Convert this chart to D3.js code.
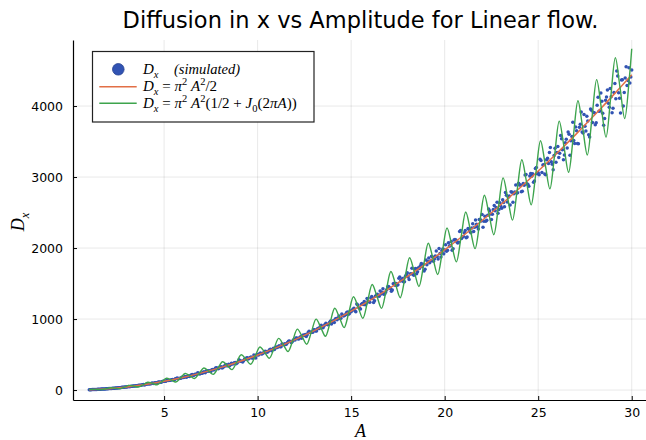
<!DOCTYPE html>
<html><head><meta charset="utf-8">
<script src="https://cdn.jsdelivr.net/npm/d3@7"></script>
<style>body{margin:0;background:#fff}</style>
</head><body>
<svg id="chart" width="646" height="440"></svg>
<script>
const title = "Diffusion in x vs Amplitude for Linear flow.";
const xTicks = [5, 10, 15, 20, 25, 30];
const yTicks = [0, 1000, 2000, 3000, 4000];

// simulated points (A, D_x) — grid 1
const simA = [
1,1.1,1.2,1.3,1.4,1.5,1.6,1.7,1.8,1.9,
2,2.1,2.2,2.3,2.4,2.5,2.6,2.7,2.8,2.9,
3,3.1,3.2,3.3,3.4,3.5,3.6,3.7,3.8,3.9,
4,4.1,4.2,4.3,4.4,4.5,4.6,4.7,4.8,4.9,
5,5.1,5.2,5.3,5.4,5.5,5.6,5.7,5.8,5.9,
6,6.1,6.2,6.3,6.4,6.5,6.6,6.7,6.8,6.9,
7,7.1,7.2,7.3,7.4,7.5,7.6,7.7,7.8,7.9,
8,8.1,8.2,8.3,8.4,8.5,8.6,8.7,8.8,8.9,
9,9.1,9.2,9.3,9.4,9.5,9.6,9.7,9.8,9.9,
10,10.1,10.2,10.3,10.4,10.5,10.6,10.7,10.8,10.9,
11,11.1,11.2,11.3,11.4,11.5,11.6,11.7,11.8,11.9,
12,12.1,12.2,12.3,12.4,12.5,12.6,12.7,12.8,12.9,
13,13.1,13.2,13.3,13.4,13.5,13.6,13.7,13.8,13.9,
14,14.1,14.2,14.3,14.4,14.5,14.6,14.7,14.8,14.9,
15,15.1,15.2,15.3,15.4,15.5,15.6,15.7,15.8,15.9,
16,16.1,16.2,16.3,16.4,16.5,16.6,16.7,16.8,16.9,
17,17.1,17.2,17.3,17.4,17.5,17.6,17.7,17.8,17.9,
18,18.1,18.2,18.3,18.4,18.5,18.6,18.7,18.8,18.9,
19,19.1,19.2,19.3,19.4,19.5,19.6,19.7,19.8,19.9,
20,20.1,20.2,20.3,20.4,20.5,20.6,20.7,20.8,20.9,
21,21.1,21.2,21.3,21.4,21.5,21.6,21.7,21.8,21.9,
22,22.1,22.2,22.3,22.4,22.5,22.6,22.7,22.8,22.9,
23,23.1,23.2,23.3,23.4,23.5,23.6,23.7,23.8,23.9,
24,24.1,24.2,24.3,24.4,24.5,24.6,24.7,24.8,24.9,
25,25.1,25.2,25.3,25.4,25.5,25.6,25.7,25.8,25.9,
26,26.1,26.2,26.3,26.4,26.5,26.6,26.7,26.8,26.9,
27,27.1,27.2,27.3,27.4,27.5,27.6,27.7,27.8,27.9,
28,28.1,28.2,28.3,28.4,28.5,28.6,28.7,28.8,28.9,
29,29.1,29.2,29.3,29.4,29.5,29.6,29.7,29.8,29.9,
30];
const simD = [
4.9,6.1,7.0,8.5,9.5,11.3,12.4,14.6,15.7,18.2,
19.3,22.4,23.3,26.9,28.9,30.2,32.4,37.0,37.9,42.6,
43.2,48.9,49.6,52.8,58.6,62.1,62.5,69.4,69.9,77.2,
77.0,85.1,84.6,89.9,97.4,102.8,101.5,112.2,110.4,121.9,
125.2,124.8,138.6,137.8,145.1,142.3,158.2,168.5,162.9,166.1,
178.4,188.9,179.1,198.2,200.3,217.7,209.8,221.7,242.6,226.0,
239.2,255.2,245.3,271.9,272.1,260.4,290.4,291.7,314.6,301.5,
323.1,312.1,334.8,359.3,343.0,340.9,376.3,370.5,388.3,379.6,
428.5,407.0,396.4,435.3,452.2,437.8,457.1,449.9,493.4,450.8,
496.2,509.7,507.8,521.7,548.2,533.5,555.0,574.3,571.9,571.9,
605.5,609.8,611.0,649.0,641.0,641.2,670.0,691.1,668.9,699.9,
704.2,733.3,718.7,751.8,766.7,769.1,755.6,811.8,812.2,813.0,
849.0,833.3,864.1,868.6,912.2,878.7,923.7,925.3,927.1,974.0,
967.2,952.6,1008.5,1015.7,1007.9,1071.8,1044.5,1061.6,1098.2,1073.7,
1104.1,1137.8,1117.0,1213.4,1167.1,1143.3,1217.7,1247.9,1217.3,1251.9,
1235.9,1315.9,1233.4,1321.2,1350.5,1322.8,1353.2,1428.3,1354.8,1411.4,
1459.1,1429.9,1409.8,1505.9,1500.3,1483.8,1592.8,1544.9,1525.2,1601.1,
1650.4,1556.7,1638.0,1631.8,1705.8,1638.1,1724.0,1751.0,1738.1,1675.2,
1831.3,1811.6,1793.7,1884.5,1815.7,1889.6,1882.5,1994.2,1872.3,1987.1,
1971.2,1956.0,2074.2,2033.6,1970.3,2113.0,2113.2,2070.1,2233.6,2134.4,
2162.5,2246.2,2155.8,2262.4,2215.6,2343.4,2292.7,2336.8,2268.0,2403.2,
2473.7,2378.1,2375.9,2460.9,2526.3,2400.3,2541.7,2526.8,2644.3,2544.4,
2590.4,2681.2,2579.9,2742.8,2715.3,2607.0,2785.0,2766.0,2889.2,2777.4,
2888.2,2793.9,2908.2,3030.2,2907.1,2870.9,3051.1,3046.8,2944.0,3133.0,
3059.6,3248.9,3064.8,3174.5,3030.9,3263.4,3344.0,3217.0,3104.1,3406.3,
3345.9,3274.2,3583.9,3382.6,3312.1,3531.3,3634.8,3306.9,3572.7,3513.7,
3705.4,3471.9,3702.1,3916.9,3619.6,3717.0,3856.9,3597.1,3958.7,3768.3,
3903.7,3764.1,4124.5,3928.5,4067.8,3727.7,4080.9,4227.3,3982.6,4129.8,
3967.6,4316.7,4493.7,4185.6,3902.9,4371.8,4189.6,4553.2,4360.4,4323.5,
4507.9];

// simulated points — grid 2 (in-between runs)
const simA2 = [
1.05,1.15,1.25,1.35,1.45,1.55,1.65,1.75,1.85,1.95,
2.05,2.15,2.25,2.35,2.45,2.55,2.65,2.75,2.85,2.95,
3.05,3.15,3.25,3.35,3.45,3.55,3.65,3.75,3.85,3.95,
4.05,4.15,4.25,4.35,4.45,4.55,4.65,4.75,4.85,4.95,
5.05,5.15,5.25,5.35,5.45,5.55,5.65,5.75,5.85,5.95,
6.05,6.15,6.25,6.35,6.45,6.55,6.65,6.75,6.85,6.95,
7.05,7.15,7.25,7.35,7.45,7.55,7.65,7.75,7.85,7.95,
8.05,8.15,8.25,8.35,8.45,8.55,8.65,8.75,8.85,8.95,
9.05,9.15,9.25,9.35,9.45,9.55,9.65,9.75,9.85,9.95,
10.05,10.15,10.25,10.35,10.45,10.55,10.65,10.75,10.85,10.95,
11.05,11.15,11.25,11.35,11.45,11.55,11.65,11.75,11.85,11.95,
12.05,12.15,12.25,12.35,12.45,12.55,12.65,12.75,12.85,12.95,
13.05,13.15,13.25,13.35,13.45,13.55,13.65,13.75,13.85,13.95,
14.05,14.15,14.25,14.35,14.45,14.55,14.65,14.75,14.85,14.95,
15.05,15.15,15.25,15.35,15.45,15.55,15.65,15.75,15.85,15.95,
16.05,16.15,16.25,16.35,16.45,16.55,16.65,16.75,16.85,16.95,
17.05,17.15,17.25,17.35,17.45,17.55,17.65,17.75,17.85,17.95,
18.05,18.15,18.25,18.35,18.45,18.55,18.65,18.75,18.85,18.95,
19.05,19.15,19.25,19.35,19.45,19.55,19.65,19.75,19.85,19.95,
20.05,20.15,20.25,20.35,20.45,20.55,20.65,20.75,20.85,20.95,
21.05,21.15,21.25,21.35,21.45,21.55,21.65,21.75,21.85,21.95,
22.05,22.15,22.25,22.35,22.45,22.55,22.65,22.75,22.85,22.95,
23.05,23.15,23.25,23.35,23.45,23.55,23.65,23.75,23.85,23.95,
24.05,24.15,24.25,24.35,24.45,24.55,24.65,24.75,24.85,24.95,
25.05,25.15,25.25,25.35,25.45,25.55,25.65,25.75,25.85,25.95,
26.05,26.15,26.25,26.35,26.45,26.55,26.65,26.75,26.85,26.95,
27.05,27.15,27.25,27.35,27.45,27.55,27.65,27.75,27.85,27.95,
28.05,28.15,28.25,28.35,28.45,28.55,28.65,28.75,28.85,28.95,
29.05,29.15,29.25,29.35,29.45,29.55,29.65,29.75,29.85,29.95];
const simD2 = [
5.37,6.75,7.36,9.04,10.59,11.54,14.14,14.99,16.23,19.08,
21.61,22.45,25.05,25.64,30.48,32.41,33.85,39.60,40.00,41.48,
46.92,46.62,52.59,57.48,57.62,61.88,68.96,67.32,74.25,72.07,
81.10,87.28,87.26,98.05,94.10,102.98,105.53,114.79,111.32,123.21,
125.3,137.1,133.3,139.9,149.0,146.5,161.4,163.6,165.9,180.1,
176.5,188.2,192.8,192.6,213.3,209.2,221.3,223.4,237.9,234.7,
235.5,255.1,266.7,266.0,268.5,286.4,281.1,309.7,305.6,309.0,
327.0,317.7,339.2,343.8,365.2,354.7,366.6,385.5,370.3,396.7,
414.6,407.4,411.6,434.7,455.2,447.9,466.3,453.0,479.1,498.8,
494.7,523.1,511.7,527.6,543.7,540.7,572.3,554.9,587.6,593.5,
598.9,623.9,610.5,637.6,653.4,649.4,687.5,678.6,679.4,710.7,
731.6,722.7,741.6,730.5,776.0,781.1,780.6,826.7,814.0,813.5,
849.7,832.9,870.3,896.2,884.2,903.8,942.0,919.0,953.7,929.6,
975.1,1001.4,991.5,1041.6,1011.3,1048.9,1053.3,1090.3,1065.9,1113.4,
1122.4,1150.9,1104.3,1199.4,1152.4,1208.3,1205.3,1201.9,1290.1,1242.2,
1297.9,1288.0,1258.4,1338.6,1328.8,1396.1,1378.6,1349.6,1381.5,1454.5,
1439.6,1390.5,1498.2,1475.1,1477.4,1575.3,1536.2,1570.0,1523.9,1625.6,
1593.1,1633.6,1717.2,1617.5,1710.4,1664.8,1712.8,1783.5,1773.1,1701.4,
1763.3,1859.1,1817.1,1873.6,1844.6,1960.0,1844.1,1924.9,1960.8,1918.7,
2044.9,1968.6,2029.2,2093.7,1988.6,2119.0,2083.7,2081.6,2247.4,2156.8,
2215.7,2144.1,2276.7,2232.1,2283.2,2232.4,2394.0,2300.2,2400.5,2380.9,
2291.8,2446.5,2391.7,2549.6,2478.4,2476.0,2599.0,2570.2,2490.0,2639.2,
2559.5,2641.0,2781.5,2647.2,2732.6,2792.4,2646.1,2789.4,2775.6,2913.8,
2888.3,2799.5,2885.7,3034.5,2894.3,3015.8,3011.1,2927.6,3119.9,3046.1,
3031.6,3233.7,3168.2,3044.3,3244.2,3192.4,3415.5,3180.4,3304.1,3206.8,
3429.1,3334.0,3539.8,3244.7,3483.4,3409.0,3602.9,3509.9,3771.0,3473.0,
3650.5,3470.2,3745.0,3635.9,3882.0,3648.1,3787.8,3564.5,3942.4,3909.0,
3735.2,4012.1,3926.4,4184.3,3898.4,3825.3,4127.5,4038.1,4247.0,3904.2,
4189.5,4100.9,4424.7,4110.6,4365.5,3998.8,4394.7,4289.0,4537.7,4408.8];

// D_x = pi^2 A^2 / 2 (read at integer A)
const orangeA = [1,2,3,4,5,6,7,8,9,10,11,12,13,14,15,16,17,18,19,20,21,22,23,24,25,26,27,28,29,30];
const orangeD = [4.93,19.74,44.41,78.96,123.37,177.65,241.81,315.83,399.72,493.48,597.11,710.61,833.98,967.22,1110.33,1263.31,1426.16,1598.88,1781.46,1973.92,2176.25,2388.44,2610.51,2842.44,3084.25,3335.92,3597.47,3868.88,4150.17,4441.32];

// D_x = pi^2 A^2 (1/2 + J0(2 pi A)) : peaks, crossings, troughs
const greenA = [1,
1.125,1.375,1.625,1.875, 2.125,2.375,2.625,2.875, 3.125,3.375,3.625,3.875, 4.125,4.375,4.625,4.875,
5.125,5.375,5.625,5.875, 6.125,6.375,6.625,6.875, 7.125,7.375,7.625,7.875, 8.125,8.375,8.625,8.875,
9.125,9.375,9.625,9.875, 10.125,10.375,10.625,10.875, 11.125,11.375,11.625,11.875, 12.125,12.375,12.625,12.875,
13.125,13.375,13.625,13.875, 14.125,14.375,14.625,14.875, 15.125,15.375,15.625,15.875, 16.125,16.375,16.625,16.875,
17.125,17.375,17.625,17.875, 18.125,18.375,18.625,18.875, 19.125,19.375,19.625,19.875, 20.125,20.375,20.625,20.875,
21.125,21.375,21.625,21.875, 22.125,22.375,22.625,22.875, 23.125,23.375,23.625,23.875, 24.125,24.375,24.625,24.875,
25.125,25.375,25.625,25.875, 26.125,26.375,26.625,26.875, 27.125,27.375,27.625,27.875, 28.125,28.375,28.625,28.875,
29.125,29.375,29.625,29.875, 30];
const greenD = [7.1,
10.0,9.3,6.5,17.3, 32.0,27.8,20.6,40.8, 65.5,56.2,43.2,74.1, 110.3,94.5,74.3,117.3,
166.1,142.6,114.2,170.3, 232.8,200.6,163.0,233.3, 310.3,268.4,220.8,306.0, 398.5,346.1,287.5,388.7,
497.5,433.7,363.4,481.2, 607.1,531.2,448.3,583.6, 727.3,638.5,542.4,695.9, 858.1,755.7,645.6,818.0,
999.5,882.8,758.1,950.0, 1151.3,1019.7,879.8,1091.9, 1313.7,1166.5,1010.8,1243.7, 1486.6,1323.2,1151.0,1405.3,
1669.8,1489.8,1300.5,1576.7, 1863.6,1666.2,1459.3,1758.1, 2067.7,1852.5,1627.5,1949.3, 2282.3,2048.6,1804.9,2150.4,
2507.2,2254.6,1991.8,2361.4, 2742.6,2470.5,2188.0,2582.2, 2988.3,2696.3,2393.6,2812.9, 3244.4,2932.0,2608.5,3053.5,
3510.8,3177.5,2832.9,3303.9, 3787.6,3432.9,3066.6,3564.2, 4074.7,3698.1,3309.8,3834.4, 4372.1,3973.2,3562.4,4114.5,
4679.8,4258.2,3824.4,4404.4, 4806];

const W = 646, H = 440;
const L = 73, R = 648, T = 40, B = 400;
const svg = d3.select('#chart');
svg.append('rect').attr('width', W).attr('height', H).attr('fill', '#fff');

const x = d3.scaleLinear().domain([0.13, 30.87]).range([L, R]);
const y = d3.scaleLinear().domain([-140, 4930]).range([B, T]);

svg.append('defs').append('clipPath').attr('id', 'clip')
  .append('rect').attr('x', L).attr('y', T).attr('width', R - L).attr('height', B - T);

// grid
const grid = svg.append('g');
grid.selectAll('.gx').data(xTicks).join('line').attr('class', 'gx')
  .attr('x1', d => x(d)).attr('x2', d => x(d)).attr('y1', T).attr('y2', B)
  .attr('stroke', '#000').attr('stroke-opacity', 0.09).attr('stroke-width', 1);
grid.selectAll('.gy').data(yTicks).join('line').attr('class', 'gy')
  .attr('x1', L).attr('x2', R).attr('y1', d => y(d)).attr('y2', d => y(d))
  .attr('stroke', '#000').attr('stroke-opacity', 0.09).attr('stroke-width', 1);

// series
const plot = svg.append('g').attr('clip-path', 'url(#clip)');
const sim = simA.map((a, i) => [a, simD[i]]).concat(simA2.map((a, i) => [a, simD2[i]]));
plot.selectAll('circle').data(sim).join('circle')
  .attr('cx', d => x(d[0])).attr('cy', d => y(d[1])).attr('r', 1.75)
  .attr('fill', '#3153b3');

const orange = orangeA.map((a, i) => [a, orangeD[i]]);
plot.append('path').datum(orange)
  .attr('d', d3.line().x(d => x(d[0])).y(d => y(d[1])).curve(d3.curveNatural))
  .attr('fill', 'none').attr('stroke', '#e26f46').attr('stroke-width', 1.5);

const green = greenA.map((a, i) => [a, greenD[i]]);
plot.append('path').datum(green)
  .attr('d', d3.line().x(d => x(d[0])).y(d => y(d[1])).curve(d3.curveCatmullRom.alpha(0.5)))
  .attr('fill', 'none').attr('stroke', '#3da44d').attr('stroke-width', 1.4);

// axes
const fontSans = '"DejaVu Sans", sans-serif';
const xAxis = svg.append('g').attr('transform', `translate(0,${B})`)
  .call(d3.axisBottom(x).tickValues(xTicks).tickFormat(d3.format('d')).tickSizeInner(-4).tickSizeOuter(0).tickPadding(8));
const yAxis = svg.append('g').attr('transform', `translate(${L},0)`)
  .call(d3.axisLeft(y).tickValues(yTicks).tickFormat(d3.format('d')).tickSizeInner(-4).tickSizeOuter(0).tickPadding(10));
[xAxis, yAxis].forEach(g => {
  g.select('.domain').attr('stroke', '#000').attr('stroke-width', 1.2);
  g.selectAll('.tick line').attr('stroke', '#000').attr('stroke-width', 1);
  g.selectAll('.tick text').attr('font-family', fontSans).attr('font-size', 12.5).attr('fill', '#000');
});

// title
svg.append('text').attr('x', (L + R) / 2).attr('y', 28).attr('text-anchor', 'middle')
  .attr('font-family', fontSans).attr('font-size', 22.5).attr('fill', '#000').text(title);

// math text helper
const serif = '"Liberation Serif", "DejaVu Serif", serif';
function mathText(parent, x0, yb, segs, size, anchor) {
  const t = parent.append('text').attr('x', x0).attr('y', yb)
    .attr('font-family', serif).attr('font-size', size).attr('fill', '#000')
    .style('white-space', 'pre');
  if (anchor) t.attr('text-anchor', anchor);
  let cur = 0;
  segs.forEach(s => {
    const target = s.s === 'sub' ? size * 0.28 : s.s === 'sup' ? -size * 0.38 : 0;
    const sp = t.append('tspan').attr('dy', target - cur).text(s.t);
    cur = target;
    if (s.i) sp.attr('font-style', 'italic');
    if (s.s) sp.attr('font-size', size * 0.7);
  });
  return t;
}

// axis labels
mathText(svg, (L + R) / 2, 437, [{t: 'A', i: 1}], 18, 'middle');
const yl = svg.append('g').attr('transform', 'translate(24,222) rotate(-90)');
mathText(yl, 0, 0, [{t: 'D', i: 1}, {t: 'x', i: 1, s: 'sub'}], 18, 'middle');

// legend
const lg = svg.append('g');
lg.append('rect').attr('x', 92.5).attr('y', 51.5).attr('width', 221.5).attr('height', 70.5)
  .attr('fill', '#fff').attr('stroke', '#222').attr('stroke-width', 1.2);
lg.append('circle').attr('cx', 118.3).attr('cy', 69.3).attr('r', 5.8).attr('fill', '#3153b3')
  .attr('stroke', '#24408f').attr('stroke-width', 0.8);
lg.append('line').attr('x1', 99.3).attr('x2', 136.7).attr('y1', 86.7).attr('y2', 86.7)
  .attr('stroke', '#e26f46').attr('stroke-width', 1.5);
lg.append('line').attr('x1', 99.3).attr('x2', 136.7).attr('y1', 103.3).attr('y2', 103.3)
  .attr('stroke', '#3da44d').attr('stroke-width', 1.5);
const fs = 15;
mathText(lg, 143, 73.5, [{t: 'D', i: 1}, {t: 'x', i: 1, s: 'sub'}], fs);
mathText(lg, 174, 73.5, [{t: '(simulated)', i: 1}], 14.5);
mathText(lg, 143, 91, [{t: 'D', i: 1}, {t: 'x', i: 1, s: 'sub'}, {t: ' = '}, {t: 'π', i: 1}, {t: '2', s: 'sup'},
  {t: ' '}, {t: 'A', i: 1}, {t: '2', s: 'sup'}, {t: '/2'}], fs);
mathText(lg, 143, 108, [{t: 'D', i: 1}, {t: 'x', i: 1, s: 'sub'}, {t: ' = '}, {t: 'π', i: 1}, {t: '2', s: 'sup'},
  {t: ' '}, {t: 'A', i: 1}, {t: '2', s: 'sup'}, {t: '(1/2 + '}, {t: 'J', i: 1}, {t: '0', s: 'sub'}, {t: '(2'},
  {t: 'π', i: 1}, {t: 'A', i: 1}, {t: '))'}], fs);
</script>
</body></html>
